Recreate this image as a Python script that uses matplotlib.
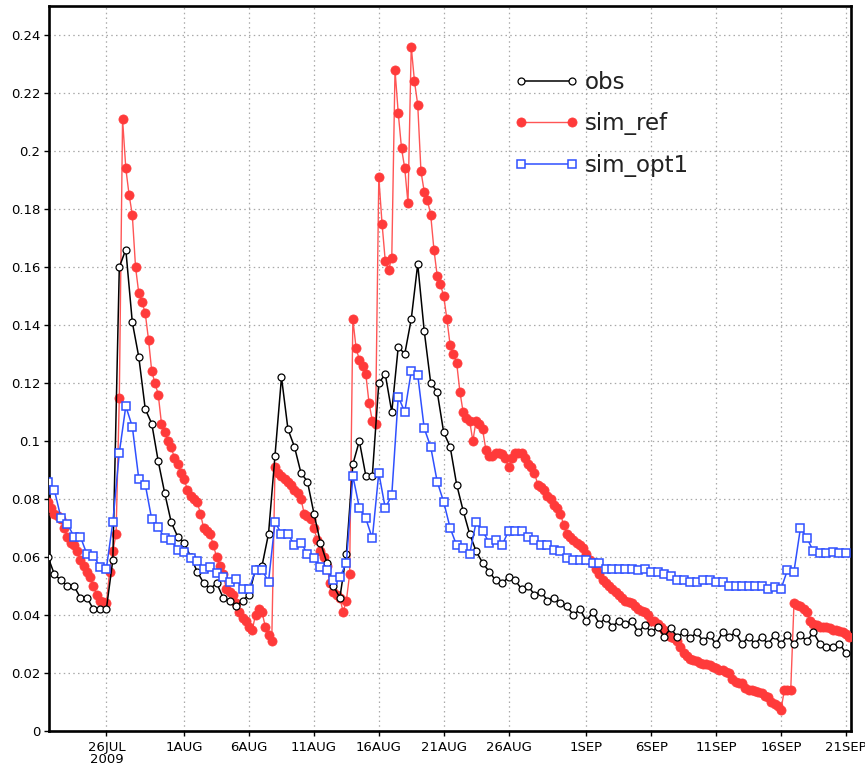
import numpy as np
import matplotlib
matplotlib.use("Agg")
import matplotlib.pyplot as plt

# ---------------------------------------------------------------------------
# Series (obs and sim_opt1: 12-hourly, sim_ref: 6-hourly), from 21 Jul 2009 12Z
# ---------------------------------------------------------------------------
obs = [
    0.060, 0.054, 0.052, 0.050, 0.050, 0.046, 0.046, 0.042, 0.042, 0.042,
    0.059, 0.160, 0.166, 0.141, 0.129, 0.111, 0.106, 0.093, 0.082, 0.072,
    0.067, 0.065, 0.060, 0.055, 0.051, 0.049, 0.051, 0.046, 0.045, 0.043,
    0.045, 0.047, 0.056, 0.057, 0.068, 0.095, 0.122, 0.104, 0.098, 0.089,
    0.086, 0.075, 0.065, 0.058, 0.050, 0.046, 0.061, 0.092, 0.100, 0.088,
    0.088, 0.120, 0.123, 0.110, 0.1325, 0.130, 0.142, 0.161, 0.138, 0.120,
    0.117, 0.103, 0.098, 0.085, 0.076, 0.068, 0.062, 0.058, 0.055, 0.052,
    0.051, 0.053, 0.052, 0.049, 0.050, 0.047, 0.048, 0.045, 0.046, 0.044,
    0.043, 0.040, 0.042, 0.038, 0.041, 0.037, 0.039, 0.036, 0.038, 0.037,
    0.038, 0.034, 0.0366, 0.034, 0.036, 0.0325, 0.0354, 0.0325, 0.034, 0.032,
    0.034, 0.031, 0.033, 0.030, 0.034, 0.0325, 0.034, 0.030, 0.0325, 0.030,
    0.0325, 0.030, 0.033, 0.030, 0.033, 0.030, 0.033, 0.031, 0.034, 0.030,
    0.029, 0.029, 0.030, 0.027,
]

sim_ref = [
    0.079, 0.077, 0.075, 0.074,
    0.073, 0.070, 0.067, 0.065,
    0.064, 0.062, 0.059, 0.057,
    0.055, 0.053, 0.050, 0.047,
    0.045, 0.0445, 0.044, 0.055,
    0.062, 0.068, 0.115, 0.211,
    0.194, 0.185, 0.178, 0.160,
    0.151, 0.148, 0.144, 0.135,
    0.124, 0.120, 0.116, 0.106,
    0.103, 0.100, 0.098, 0.094,
    0.092, 0.089, 0.087, 0.083,
    0.081, 0.080, 0.079, 0.075,
    0.070, 0.069, 0.068, 0.064,
    0.060, 0.057, 0.054, 0.049,
    0.048, 0.047, 0.044, 0.041,
    0.039, 0.038, 0.036, 0.035,
    0.040, 0.042, 0.041, 0.036,
    0.033, 0.031, 0.091, 0.089,
    0.088, 0.087, 0.086, 0.085,
    0.083, 0.082, 0.080, 0.075,
    0.074, 0.073, 0.070, 0.066,
    0.062, 0.060, 0.057, 0.051,
    0.048, 0.047, 0.046, 0.041,
    0.045, 0.054, 0.142, 0.132,
    0.128, 0.126, 0.123, 0.113,
    0.107, 0.106, 0.191, 0.175,
    0.162, 0.159, 0.163, 0.228,
    0.213, 0.201, 0.194, 0.182,
    0.236, 0.224, 0.216, 0.193,
    0.186, 0.183, 0.178, 0.166,
    0.157, 0.154, 0.150, 0.142,
    0.133, 0.130, 0.127, 0.117,
    0.110, 0.108, 0.107, 0.100,
    0.107, 0.106, 0.104, 0.097,
    0.095, 0.095, 0.096, 0.096,
    0.0955, 0.094, 0.091, 0.094,
    0.096, 0.096, 0.096, 0.094,
    0.092, 0.091, 0.089, 0.085,
    0.084, 0.083, 0.081, 0.080,
    0.078, 0.077, 0.075, 0.071,
    0.068, 0.067, 0.066, 0.065,
    0.064, 0.063, 0.061, 0.059,
    0.058, 0.056, 0.054, 0.052,
    0.051, 0.050, 0.049, 0.048,
    0.047, 0.046, 0.045, 0.0445,
    0.044, 0.043, 0.042, 0.0415,
    0.041, 0.040, 0.038, 0.038,
    0.037, 0.036, 0.035, 0.033,
    0.0325, 0.032, 0.031, 0.029,
    0.027, 0.026, 0.025, 0.0245,
    0.024, 0.0233, 0.023, 0.023,
    0.0228, 0.022, 0.0216, 0.021,
    0.021, 0.0205, 0.020, 0.018,
    0.017, 0.0165, 0.0164, 0.015,
    0.0143, 0.014, 0.0138, 0.0135,
    0.013, 0.012, 0.0118, 0.010,
    0.0093, 0.0085, 0.0072, 0.014,
    0.014, 0.014, 0.044, 0.0435,
    0.043, 0.042, 0.041, 0.038,
    0.037, 0.0366, 0.036, 0.036,
    0.0357, 0.0354, 0.035, 0.0348,
    0.0345, 0.034, 0.0335, 0.0325,
]

sim_opt1 = [
    0.086, 0.083, 0.0735, 0.0715, 0.067, 0.067, 0.061, 0.0605, 0.0567, 0.056,
    0.072, 0.096, 0.112, 0.105, 0.087, 0.085, 0.073, 0.0704, 0.0664, 0.0658,
    0.0624, 0.0618, 0.0595, 0.0585, 0.056, 0.0567, 0.0545, 0.053, 0.0515, 0.0525,
    0.049, 0.049, 0.0555, 0.0555, 0.0515, 0.072, 0.068, 0.068, 0.064, 0.065,
    0.061, 0.0595, 0.0567, 0.0555, 0.052, 0.053, 0.058, 0.088, 0.077, 0.0733,
    0.0664, 0.089, 0.0768, 0.0814, 0.1153, 0.110, 0.124, 0.1228, 0.1044, 0.098,
    0.086, 0.079, 0.070, 0.064, 0.063, 0.061, 0.072, 0.069, 0.065, 0.066,
    0.064, 0.069, 0.069, 0.069, 0.067, 0.066, 0.064, 0.064, 0.0625, 0.062,
    0.0595, 0.059, 0.059, 0.059, 0.058, 0.058, 0.056, 0.056, 0.056, 0.056,
    0.056, 0.0555, 0.056, 0.055, 0.055, 0.054, 0.0535, 0.052, 0.052, 0.0515,
    0.0515, 0.052, 0.052, 0.0515, 0.0515, 0.050, 0.050, 0.050, 0.050, 0.050,
    0.050, 0.049, 0.0495, 0.049, 0.0555, 0.055, 0.070, 0.0665, 0.062, 0.0613,
    0.0615, 0.0618, 0.0615, 0.0615,
]

tick_dates = ["2009-07-26", "2009-08-01", "2009-08-06", "2009-08-11",
              "2009-08-16", "2009-08-21", "2009-08-26", "2009-09-01",
              "2009-09-06", "2009-09-11", "2009-09-16", "2009-09-21"]
tick_labels = ["26JUL\n2009", "1AUG", "6AUG", "11AUG", "16AUG", "21AUG",
               "26AUG", "1SEP", "6SEP", "11SEP", "16SEP", "21SEP"]
y_ticks = [0.0, 0.02, 0.04, 0.06, 0.08, 0.10, 0.12, 0.14, 0.16, 0.18,
           0.20, 0.22, 0.24]

# ---------------------------------------------------------------------------
start = np.datetime64("2009-07-21T12:00")
t_obs = start + np.arange(len(obs)) * np.timedelta64(12, "h")
t_opt = start + np.arange(len(sim_opt1)) * np.timedelta64(12, "h")
t_ref = start + np.arange(len(sim_ref)) * np.timedelta64(6, "h")

plt.rcParams["font.family"] = ["DejaVu Sans"]

W, H = 865, 771
fig = plt.figure(figsize=(W / 100, H / 100), dpi=100)
left, right, top, bottom = 48.5, 851, 6, 731
ax = fig.add_axes([left / W, 1 - bottom / H, (right - left) / W, (bottom - top) / H])

red_line = "#ff5555"
red_mark = "#ff3a3a"
blue = "#2f50ff"

ax.plot(t_ref, sim_ref, color=red_line, lw=1.0, marker="o", ms=6.6,
        mfc=red_mark, mec=red_mark, mew=0.5, zorder=3, label="sim_ref")
ax.plot(t_obs, obs, color="black", lw=1.1, marker="o", ms=5.0,
        mfc="white", mec="black", mew=0.9, zorder=4, label="obs")
ax.plot(t_opt, sim_opt1, color=blue, lw=1.1, marker="s", ms=5.4,
        mfc="white", mec=blue, mew=1.1, zorder=5, label="sim_opt1")

ax.set_xlim(np.datetime64("2009-07-21T13:00"), np.datetime64("2009-09-21T09:30"))
ax.set_ylim(0, 0.25)

xt = [np.datetime64(d) for d in tick_dates]
ax.set_xticks(xt)
ax.set_xticklabels(tick_labels)
ax.set_yticks(y_ticks)
ax.set_yticklabels([f"{round(v, 2):g}" for v in y_ticks])

ax.tick_params(axis="both", direction="out", length=3.5, width=1.0,
               labelsize=9.5, colors="black")
ax.tick_params(axis="x", pad=3.5)
ax.tick_params(axis="y", pad=2.5)
for lab in ax.get_xticklabels():
    lab.set_linespacing(0.95)

for sp in ax.spines.values():
    sp.set_linewidth(1.9)
    sp.set_color("black")

ax.grid(True, color="#a9a9a9", linestyle=(0, (1.2, 2.6)), linewidth=0.9)
ax.set_axisbelow(True)

handles, labels = ax.get_legend_handles_labels()
order = [labels.index(n) for n in ("obs", "sim_ref", "sim_opt1")]
leg = ax.legend([handles[i] for i in order], [labels[i] for i in order],
                loc="upper left", bbox_to_anchor=(514 / W, 1 - 71 / H),
                bbox_transform=fig.transFigure, frameon=False, fontsize=16.5,
                handlelength=2.85, handletextpad=0.25, labelspacing=0.8,
                borderpad=0, borderaxespad=0, numpoints=2)
for txt in leg.get_texts():
    txt.set_color("#222222")

fig.savefig("out.png", dpi=100)
